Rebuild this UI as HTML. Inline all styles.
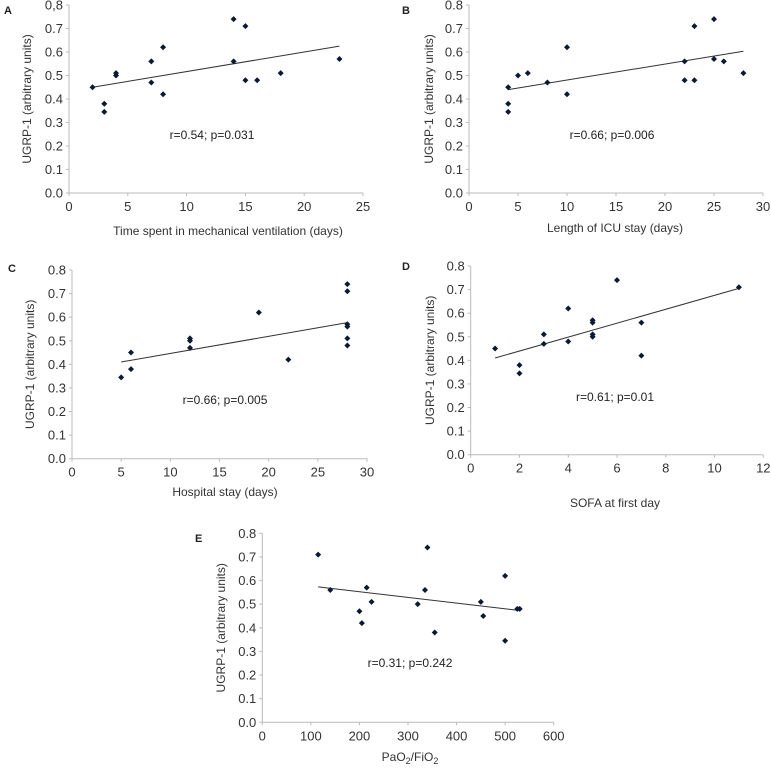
<!DOCTYPE html>
<html><head><meta charset="utf-8"><style>
body{margin:0;background:#fff;}
svg{display:block;font-family:"Liberation Sans",sans-serif;}
</style></head><body>
<svg id="fig" width="771" height="768" viewBox="0 0 771 768"></svg>
<script>
const aX=[2,3,3,4,4,7,7,8,8,14,14,15,15,16,18,23];
const aY=[.45,.38,.345,.51,.50,.56,.47,.62,.42,.74,.56,.71,.48,.48,.51,.57];
const aTrend=[[2,.45],[23,.625]];
const bX=[4,4,4,5,6,8,10,10,22,22,23,23,25,25,26,28];
const bY=[.45,.38,.345,.50,.51,.47,.62,.42,.56,.48,.71,.48,.74,.57,.56,.51];
const bTrend=[[4,.44],[28,.603]];
const cX=[5,6,6,12,12,12,19,22,28,28,28,28,28,28];
const cY=[.345,.45,.38,.51,.50,.47,.62,.42,.74,.71,.57,.56,.51,.48];
const cTrend=[[5,.41],[28,.577]];
const dX=[1,2,2,3,3,4,4,5,5,5,5,6,7,7,11];
const dY=[.45,.38,.345,.51,.47,.62,.48,.57,.56,.51,.50,.74,.56,.42,.71];
const dTrend=[[1,.41],[11,.705]];
const eX=[115,140,200,205,215,225,320,335,340,355,450,455,500,500,525,530];
const eY=[.71,.56,.47,.42,.57,.51,.50,.56,.74,.38,.51,.45,.62,.345,.48,.48];
const eTrend=[[115,.573],[530,.473]];
const yTicks=["0.0","0.1","0.2","0.3","0.4","0.5","0.6","0.7","0.8"];
const yTicksA=["0.0","0.1","0.2","0.3","0.4","0.5","0.6","0.7","0,8"];
const xTicksA=[0,5,10,15,20,25];
const xTicksB=[0,5,10,15,20,25,30];
const xTicksD=[0,2,4,6,8,10,12];
const xTicksE=[0,100,200,300,400,500,600];

const NS="http://www.w3.org/2000/svg";
const svg=document.getElementById('fig');
function mk(tag,attrs,parent,text){const e=document.createElementNS(NS,tag);for(const k in attrs)e.setAttribute(k,attrs[k]);if(text!==undefined)e.textContent=text;parent.appendChild(e);return e;}

function panel(p){
  const g=mk('g',{},svg);
  
  
  const xMax=p.xTicks[p.xTicks.length-1];
  const sx=v=>p.x0+(p.x1-p.x0)*v/xMax;
  const sy=v=>p.y0+(p.y1-p.y0)*v/0.8;
  const lt=mk('text',{x:p.lx,y:p.ly,'font-size':11,'font-weight':'bold',fill:'#222'},g,p.id);
  
  
  const ax=mk('path',{d:`M${p.x0},${p.y1}V${p.y0}H${p.x1}`,stroke:'#bbb','stroke-width':1,fill:'none'},g);
  
  
  p.yLabels.forEach((t,i)=>{const y=sy(i*0.1);
    mk('line',{x1:p.x0-3,x2:p.x0,y1:y,y2:y,stroke:'#bbb'},g);
    const tx=mk('text',{x:p.x0-6,y:y+4.5,'font-size':13,'text-anchor':'end',fill:'#333'},g,t);
    
    });
  p.xTicks.forEach(v=>{const x=sx(v);
    mk('line',{x1:x,x2:x,y1:p.y0,y2:p.y0+3,stroke:'#bbb'},g);
    const tx=mk('text',{x:x,y:p.y0+18,'font-size':13,'text-anchor':'middle',fill:'#333'},g,String(v));
    
    });
  const yt=mk('text',{x:0,y:0,'font-size':12,'text-anchor':'middle',fill:'#333',transform:`translate(${p.ytx},${(p.y0+p.y1)/2}) rotate(-90)`},g,'UGRP-1 (arbitrary units)');
  
  
  const xt=mk('text',{x:p.xtx,y:p.xty,'font-size':12,'text-anchor':'middle',fill:'#333'},g);
  xt.innerHTML=p.xTitle;
  
  
  const an=mk('text',{x:p.anx,y:p.any,'font-size':12,'text-anchor':'middle',fill:'#222'},g,p.ann);
  
  
  const tl=mk('line',{x1:sx(p.trend[0][0]),y1:sy(p.trend[0][1]),x2:sx(p.trend[1][0]),y2:sy(p.trend[1][1]),stroke:'#333','stroke-width':1},g);
  
  
  p.xs.forEach((v,i)=>{const x=sx(v),y=sy(p.ys[i]);
    const m=mk('path',{d:`M${x},${y-3}L${x+3},${y}L${x},${y+3}L${x-3},${y}Z`,fill:'#0b1a33'},g);
    
    });
}
panel({id:'A',x0:69,x1:363,y0:193,y1:5,xTicks:xTicksA,yLabels:yTicksA,xs:aX,ys:aY,trend:aTrend,lx:4,ly:14,ytx:31,xtx:228,xty:235,xTitle:'Time spent in mechanical ventilation (days)',anx:212,any:139,ann:'r=0.54; p=0.031'});
panel({id:'B',x0:469,x1:763,y0:193,y1:5,xTicks:xTicksB,yLabels:yTicks,xs:bX,ys:bY,trend:bTrend,lx:402,ly:14,ytx:433,xtx:615,xty:232,xTitle:'Length of ICU stay (days)',anx:612,any:139,ann:'r=0.66; p=0.006'});
panel({id:'C',x0:72,x1:367,y0:458.7,y1:270,xTicks:xTicksB,yLabels:yTicks,xs:cX,ys:cY,trend:cTrend,lx:8,ly:272,ytx:34,xtx:225,xty:496,xTitle:'Hospital stay (days)',anx:225,any:404,ann:'r=0.66; p=0.005'});
panel({id:'D',x0:470.7,x1:763.3,y0:454.7,y1:266,xTicks:xTicksD,yLabels:yTicks,xs:dX,ys:dY,trend:dTrend,lx:402,ly:270,ytx:434,xtx:615,xty:507,xTitle:'SOFA at first day',anx:615,any:401,ann:'r=0.61; p=0.01'});
panel({id:'E',x0:262.3,x1:553.7,y0:722.3,y1:533.3,xTicks:xTicksE,yLabels:yTicks,xs:eX,ys:eY,trend:eTrend,lx:195,ly:542,ytx:225,xtx:410,xty:761,xTitle:'PaO<tspan font-size="9" dy="3">2</tspan><tspan dy="-3">/FiO</tspan><tspan font-size="9" dy="3">2</tspan>',anx:410,any:667,ann:'r=0.31; p=0.242'});
</script>
</body></html>
